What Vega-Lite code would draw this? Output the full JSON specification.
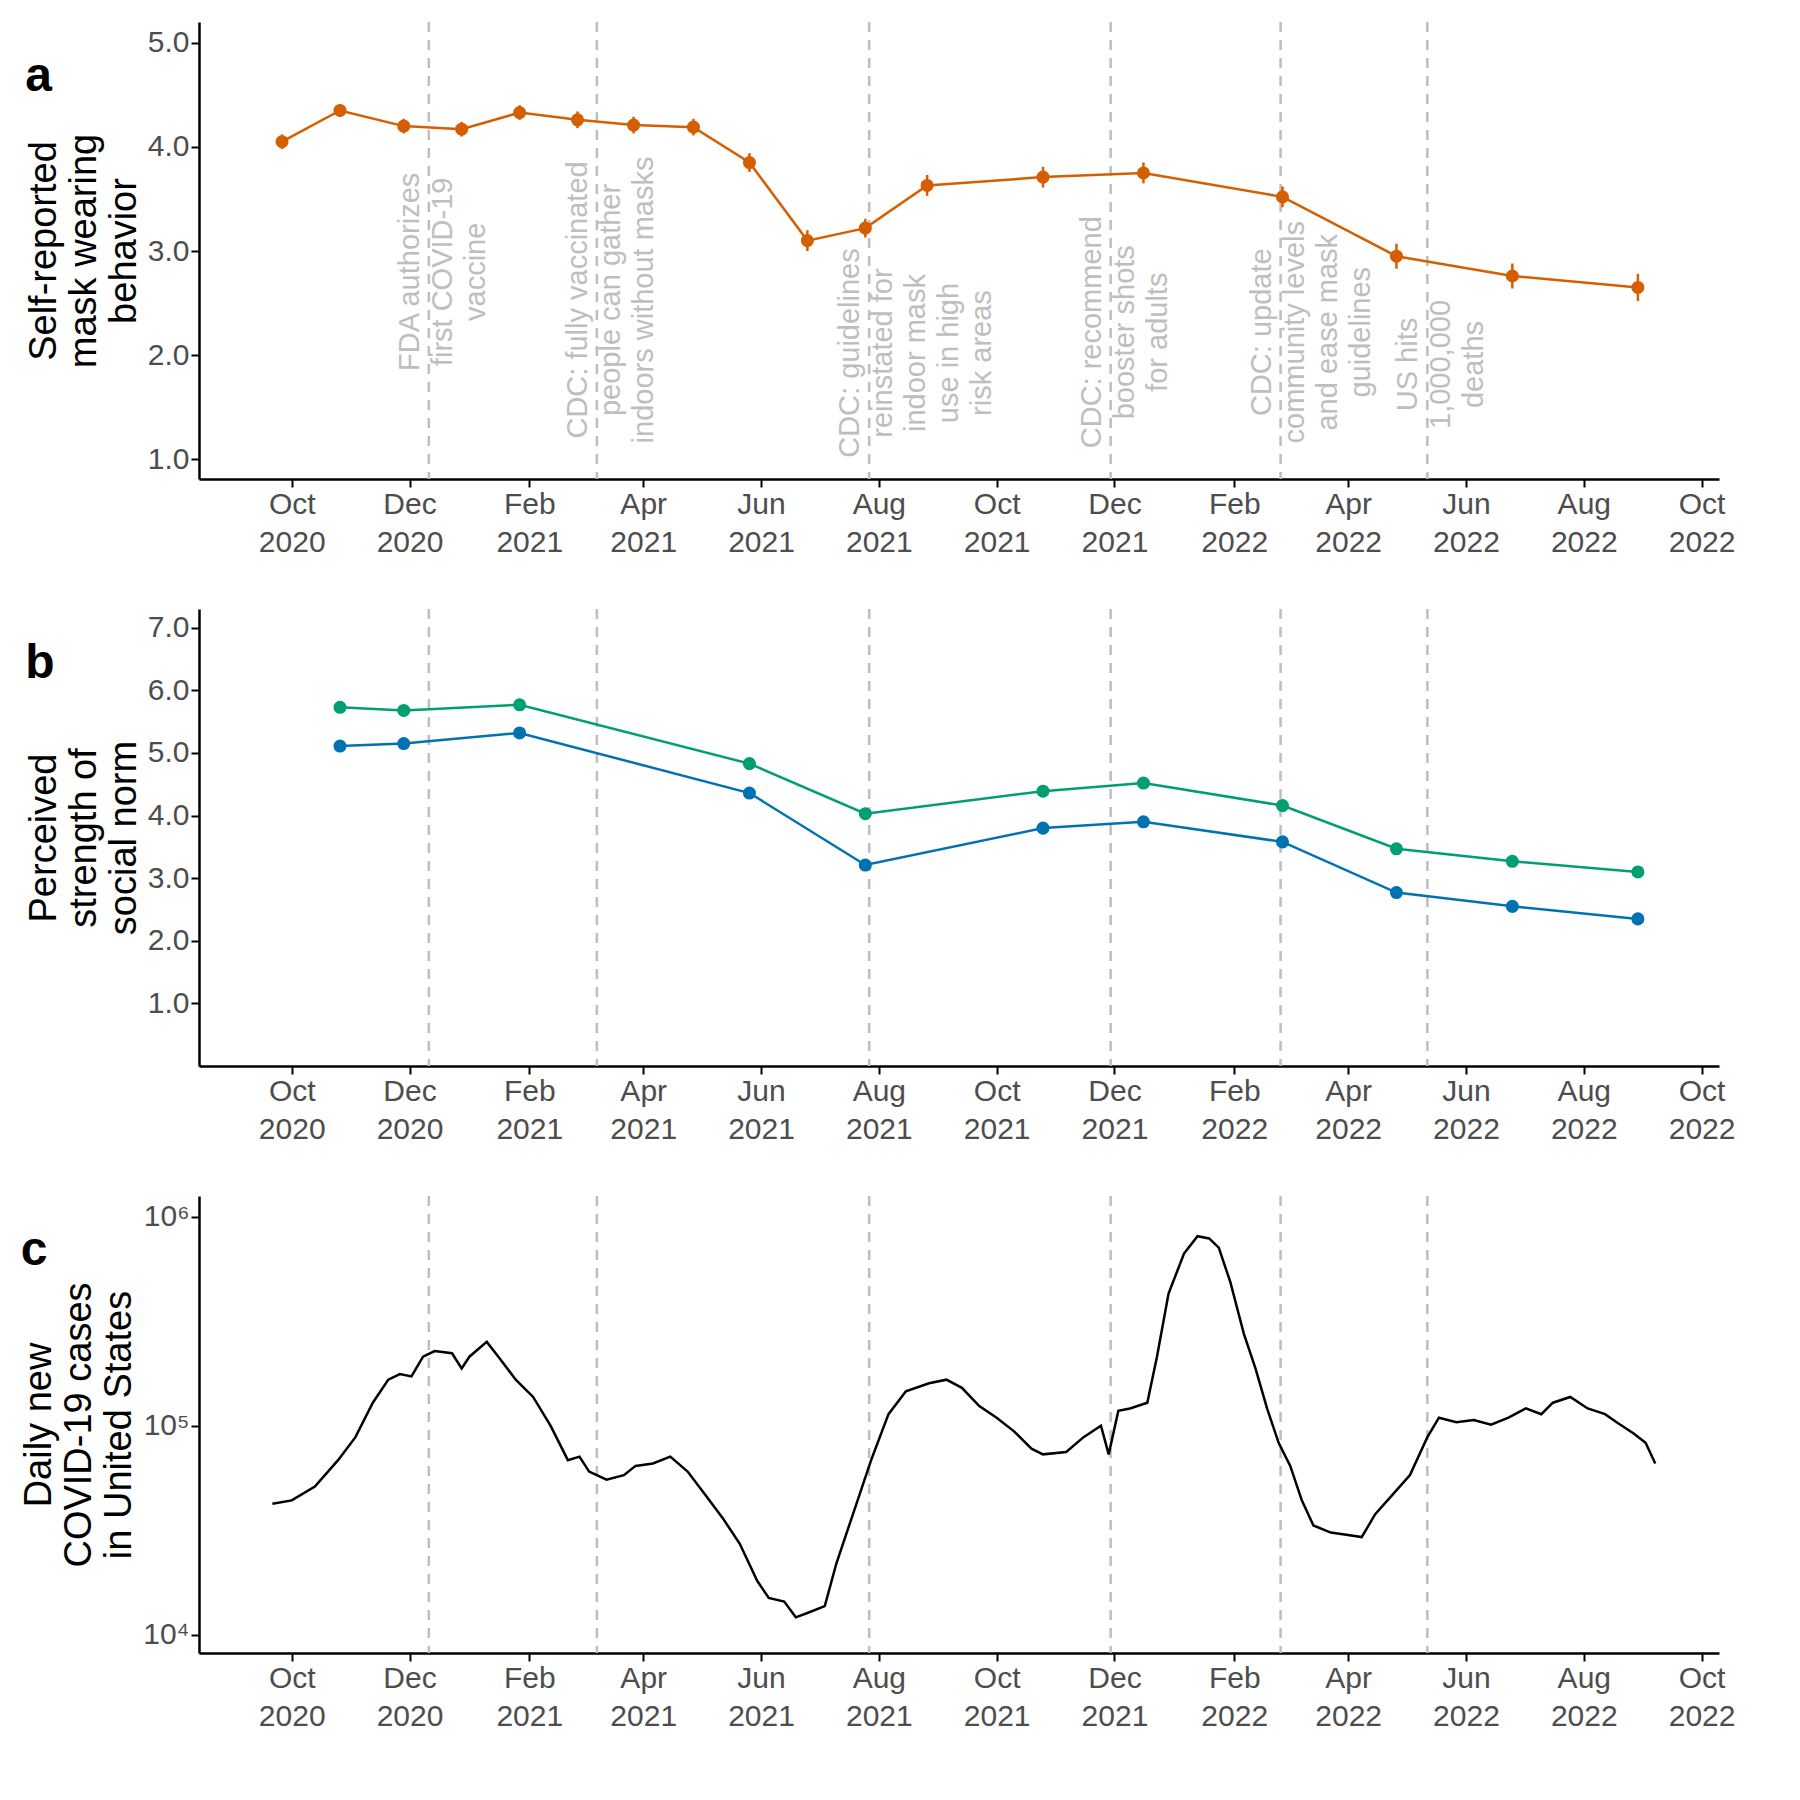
{
  "$schema": "https://vega.github.io/schema/vega-lite/v6.json",
  "padding": {"left": 20, "top": 20, "right": 25, "bottom": 10},
  "background": "white",
  "config": {
    "font": "Liberation Sans",
    "view": {"stroke": null},
    "axis": {"grid": false, "domainColor": "black", "domainWidth": 2.5, "tickColor": "black", "tickWidth": 2, "tickSize": 8, "labelFontSize": 30, "labelColor": "#4D4D4D", "titleFontSize": 38, "titleFontWeight": "normal", "titleColor": "black"},
    "title": {"fontSize": 48, "fontWeight": "bold", "anchor": "start", "frame": "bounds", "offset": -40, "dx": 0, "dy": 40}
  },
  "datasets": {
    "events": [
      {"date": "2020-12-11", "label": "FDA authorizes|first COVID-19|vaccine", "ya": 2.8},
      {"date": "2021-03-08", "label": "CDC: fully vaccinated|people can gather|indoors without masks", "ya": 2.53},
      {"date": "2021-07-27", "label": "CDC: guidelines|reinstated for|indoor mask|use in high|risk areas", "ya": 2.02},
      {"date": "2021-11-29", "label": "CDC: recommend|booster shots|for adults", "ya": 2.22},
      {"date": "2022-02-25", "label": "CDC: update|community levels|and ease mask|guidelines", "ya": 2.22},
      {"date": "2022-05-12", "label": "US hits|1,000,000|deaths", "ya": 1.91}
    ],
    "mask": [
      {"date": "2020-09-26", "value": 4.05, "lo": 3.98, "hi": 4.12},
      {"date": "2020-10-26", "value": 4.35, "lo": 4.29, "hi": 4.41},
      {"date": "2020-11-28", "value": 4.2, "lo": 4.13, "hi": 4.27},
      {"date": "2020-12-28", "value": 4.17, "lo": 4.1, "hi": 4.24},
      {"date": "2021-01-27", "value": 4.33, "lo": 4.26, "hi": 4.4},
      {"date": "2021-02-26", "value": 4.26, "lo": 4.18, "hi": 4.34},
      {"date": "2021-03-27", "value": 4.21, "lo": 4.13, "hi": 4.29},
      {"date": "2021-04-27", "value": 4.19, "lo": 4.11, "hi": 4.27},
      {"date": "2021-05-26", "value": 3.85, "lo": 3.76, "hi": 3.94},
      {"date": "2021-06-25", "value": 3.1, "lo": 3.0, "hi": 3.2},
      {"date": "2021-07-25", "value": 3.22, "lo": 3.13, "hi": 3.31},
      {"date": "2021-08-26", "value": 3.63, "lo": 3.53, "hi": 3.73},
      {"date": "2021-10-25", "value": 3.71, "lo": 3.61, "hi": 3.81},
      {"date": "2021-12-16", "value": 3.75, "lo": 3.65, "hi": 3.85},
      {"date": "2022-02-26", "value": 3.52, "lo": 3.42, "hi": 3.62},
      {"date": "2022-04-26", "value": 2.95, "lo": 2.83, "hi": 3.07},
      {"date": "2022-06-25", "value": 2.76, "lo": 2.64, "hi": 2.88},
      {"date": "2022-08-29", "value": 2.65, "lo": 2.52, "hi": 2.78}
    ],
    "norm": [
      {"date": "2020-10-26", "norm": "Injunctive", "value": 5.73, "lo": 5.68, "hi": 5.78},
      {"date": "2020-11-28", "norm": "Injunctive", "value": 5.68, "lo": 5.63, "hi": 5.73},
      {"date": "2021-01-27", "norm": "Injunctive", "value": 5.77, "lo": 5.72, "hi": 5.82},
      {"date": "2021-05-26", "norm": "Injunctive", "value": 4.83, "lo": 4.75, "hi": 4.91},
      {"date": "2021-07-25", "norm": "Injunctive", "value": 4.03, "lo": 3.97, "hi": 4.09},
      {"date": "2021-10-25", "norm": "Injunctive", "value": 4.39, "lo": 4.32, "hi": 4.46},
      {"date": "2021-12-16", "norm": "Injunctive", "value": 4.52, "lo": 4.43, "hi": 4.61},
      {"date": "2022-02-26", "norm": "Injunctive", "value": 4.16, "lo": 4.08, "hi": 4.24},
      {"date": "2022-04-26", "norm": "Injunctive", "value": 3.47, "lo": 3.39, "hi": 3.55},
      {"date": "2022-06-25", "norm": "Injunctive", "value": 3.27, "lo": 3.21, "hi": 3.33},
      {"date": "2022-08-29", "norm": "Injunctive", "value": 3.1, "lo": 3.04, "hi": 3.16},
      {"date": "2020-10-26", "norm": "Descriptive", "value": 5.11, "lo": 5.06, "hi": 5.16},
      {"date": "2020-11-28", "norm": "Descriptive", "value": 5.15, "lo": 5.1, "hi": 5.2},
      {"date": "2021-01-27", "norm": "Descriptive", "value": 5.32, "lo": 5.27, "hi": 5.37},
      {"date": "2021-05-26", "norm": "Descriptive", "value": 4.36, "lo": 4.29, "hi": 4.43},
      {"date": "2021-07-25", "norm": "Descriptive", "value": 3.21, "lo": 3.15, "hi": 3.27},
      {"date": "2021-10-25", "norm": "Descriptive", "value": 3.8, "lo": 3.73, "hi": 3.87},
      {"date": "2021-12-16", "norm": "Descriptive", "value": 3.9, "lo": 3.82, "hi": 3.98},
      {"date": "2022-02-26", "norm": "Descriptive", "value": 3.58, "lo": 3.5, "hi": 3.66},
      {"date": "2022-04-26", "norm": "Descriptive", "value": 2.77, "lo": 2.71, "hi": 2.83},
      {"date": "2022-06-25", "norm": "Descriptive", "value": 2.55, "lo": 2.5, "hi": 2.6},
      {"date": "2022-08-29", "norm": "Descriptive", "value": 2.35, "lo": 2.3, "hi": 2.4}
    ],
    "cases": [
      {"date": "2020-09-21", "cases": 42300}, {"date": "2020-10-01", "cases": 43900},
      {"date": "2020-10-13", "cases": 51100}, {"date": "2020-10-25", "cases": 68400},
      {"date": "2020-11-03", "cases": 88100}, {"date": "2020-11-12", "cases": 128800},
      {"date": "2020-11-20", "cases": 166000}, {"date": "2020-11-26", "cases": 176600},
      {"date": "2020-12-02", "cases": 172000}, {"date": "2020-12-08", "cases": 213800},
      {"date": "2020-12-14", "cases": 227600}, {"date": "2020-12-23", "cases": 222000},
      {"date": "2020-12-28", "cases": 188000}, {"date": "2021-01-01", "cases": 213800},
      {"date": "2021-01-10", "cases": 251800}, {"date": "2021-01-16", "cases": 213800},
      {"date": "2021-01-25", "cases": 166000}, {"date": "2021-02-03", "cases": 137200},
      {"date": "2021-02-12", "cases": 100000}, {"date": "2021-02-21", "cases": 68400},
      {"date": "2021-02-27", "cases": 71100}, {"date": "2021-03-04", "cases": 60300},
      {"date": "2021-03-13", "cases": 55200}, {"date": "2021-03-22", "cases": 58000},
      {"date": "2021-03-28", "cases": 64200}, {"date": "2021-04-06", "cases": 65900},
      {"date": "2021-04-15", "cases": 71100}, {"date": "2021-04-24", "cases": 60300},
      {"date": "2021-05-03", "cases": 46800}, {"date": "2021-05-12", "cases": 36300},
      {"date": "2021-05-21", "cases": 27200}, {"date": "2021-05-30", "cases": 18100},
      {"date": "2021-06-05", "cases": 15000}, {"date": "2021-06-13", "cases": 14400},
      {"date": "2021-06-19", "cases": 12100}, {"date": "2021-06-25", "cases": 12700},
      {"date": "2021-07-04", "cases": 13700}, {"date": "2021-07-10", "cases": 21900},
      {"date": "2021-07-19", "cases": 38700}, {"date": "2021-07-28", "cases": 68400},
      {"date": "2021-08-06", "cases": 113500}, {"date": "2021-08-15", "cases": 146200},
      {"date": "2021-08-27", "cases": 159600}, {"date": "2021-09-05", "cases": 166000},
      {"date": "2021-09-13", "cases": 151800}, {"date": "2021-09-22", "cases": 124000},
      {"date": "2021-10-01", "cases": 109200}, {"date": "2021-10-10", "cases": 93900},
      {"date": "2021-10-19", "cases": 77600}, {"date": "2021-10-25", "cases": 72900},
      {"date": "2021-11-06", "cases": 74800}, {"date": "2021-11-15", "cases": 88100},
      {"date": "2021-11-24", "cases": 100000}, {"date": "2021-11-28", "cases": 72900},
      {"date": "2021-12-03", "cases": 117900}, {"date": "2021-12-09", "cases": 120900},
      {"date": "2021-12-18", "cases": 128800}, {"date": "2021-12-23", "cases": 213800},
      {"date": "2021-12-29", "cases": 428500}, {"date": "2022-01-06", "cases": 666000},
      {"date": "2022-01-13", "cases": 807000}, {"date": "2022-01-19", "cases": 787000},
      {"date": "2022-01-24", "cases": 711000}, {"date": "2022-01-30", "cases": 486000},
      {"date": "2022-02-06", "cases": 275000}, {"date": "2022-02-12", "cases": 188000},
      {"date": "2022-02-18", "cases": 120900}, {"date": "2022-02-24", "cases": 82800},
      {"date": "2022-03-02", "cases": 64200}, {"date": "2022-03-08", "cases": 43900},
      {"date": "2022-03-14", "cases": 33300}, {"date": "2022-03-23", "cases": 30800},
      {"date": "2022-03-31", "cases": 30100}, {"date": "2022-04-08", "cases": 29300},
      {"date": "2022-04-15", "cases": 37700}, {"date": "2022-04-24", "cases": 46800},
      {"date": "2022-05-03", "cases": 58000}, {"date": "2022-05-12", "cases": 88100},
      {"date": "2022-05-18", "cases": 109200}, {"date": "2022-05-27", "cases": 103800},
      {"date": "2022-06-05", "cases": 106500}, {"date": "2022-06-14", "cases": 101100},
      {"date": "2022-06-23", "cases": 109200}, {"date": "2022-07-02", "cases": 120900},
      {"date": "2022-07-10", "cases": 113500}, {"date": "2022-07-16", "cases": 128800},
      {"date": "2022-07-25", "cases": 137200}, {"date": "2022-08-03", "cases": 120900},
      {"date": "2022-08-12", "cases": 113500}, {"date": "2022-08-18", "cases": 103800},
      {"date": "2022-08-27", "cases": 91500}, {"date": "2022-09-02", "cases": 82800},
      {"date": "2022-09-07", "cases": 65900}
    ]
  },
  "spacing": 50,
  "vconcat": [
    {
      "title": "a",
      "width": 1520,
      "height": 457,
      "encoding": {
        "x": {"field": "date", "type": "temporal", "title": null,
          "scale": {"domain": [{"year": 2020, "month": 8, "date": 14}, {"year": 2022, "month": 10, "date": 10}]},
          "axis": {"values": [{"year": 2020, "month": 10, "date": 1}, {"year": 2020, "month": 12, "date": 1}, {"year": 2021, "month": 2, "date": 1}, {"year": 2021, "month": 4, "date": 1}, {"year": 2021, "month": 6, "date": 1}, {"year": 2021, "month": 8, "date": 1}, {"year": 2021, "month": 10, "date": 1}, {"year": 2021, "month": 12, "date": 1}, {"year": 2022, "month": 2, "date": 1}, {"year": 2022, "month": 4, "date": 1}, {"year": 2022, "month": 6, "date": 1}, {"year": 2022, "month": 8, "date": 1}, {"year": 2022, "month": 10, "date": 1}],
            "labelExpr": "[timeFormat(datum.value, '%b'), timeFormat(datum.value, '%Y')]", "labelLineHeight": 38}}
      },
      "layer": [
        {"data": {"name": "events"}, "mark": {"type": "rule", "strokeDash": [10, 8], "strokeWidth": 2.5, "color": "#BEBEBE"}, "encoding": {}},
        {"data": {"name": "events"}, "mark": {"type": "text", "angle": 270, "align": "center", "baseline": "bottom", "lineBreak": "|", "fontSize": 29, "color": "#BEBEBE", "lineHeight": 33, "dy": -4},
          "encoding": {"text": {"field": "label"}, "y": {"field": "ya", "type": "quantitative", "scale": {"domain": [0.81, 5.2]}}}},
        {"data": {"name": "mask"}, "mark": {"type": "rule", "color": "#D55E00", "strokeWidth": 2.5},
          "encoding": {"y": {"field": "lo", "type": "quantitative"}, "y2": {"field": "hi"}}},
        {"data": {"name": "mask"}, "mark": {"type": "line", "color": "#D55E00", "strokeWidth": 2.5, "point": {"filled": true, "size": 170, "color": "#D55E00"}},
          "encoding": {"y": {"field": "value", "type": "quantitative", "scale": {"domain": [0.81, 5.2], "nice": false}, "axis": {"values": [1, 2, 3, 4, 5]}, "title": ["Self-reported", "mask wearing", "behavior"]}}}
      ]
    },
    {
      "title": "b",
      "width": 1520,
      "height": 457,
      "encoding": {
        "x": {"field": "date", "type": "temporal", "title": null,
          "scale": {"domain": [{"year": 2020, "month": 8, "date": 14}, {"year": 2022, "month": 10, "date": 10}]},
          "axis": {"values": [{"year": 2020, "month": 10, "date": 1}, {"year": 2020, "month": 12, "date": 1}, {"year": 2021, "month": 2, "date": 1}, {"year": 2021, "month": 4, "date": 1}, {"year": 2021, "month": 6, "date": 1}, {"year": 2021, "month": 8, "date": 1}, {"year": 2021, "month": 10, "date": 1}, {"year": 2021, "month": 12, "date": 1}, {"year": 2022, "month": 2, "date": 1}, {"year": 2022, "month": 4, "date": 1}, {"year": 2022, "month": 6, "date": 1}, {"year": 2022, "month": 8, "date": 1}, {"year": 2022, "month": 10, "date": 1}],
            "labelExpr": "[timeFormat(datum.value, '%b'), timeFormat(datum.value, '%Y')]", "labelLineHeight": 38}}
      },
      "layer": [
        {"data": {"name": "events"}, "mark": {"type": "rule", "strokeDash": [10, 8], "strokeWidth": 2.5, "color": "#BEBEBE"}, "encoding": {}},
        {"data": {"name": "norm"}, "mark": {"type": "rule", "strokeWidth": 2.5},
          "encoding": {"y": {"field": "lo", "type": "quantitative"}, "y2": {"field": "hi"},
            "color": {"field": "norm", "type": "nominal", "scale": {"domain": ["Injunctive", "Descriptive"], "range": ["#009E73", "#0072B2"]}, "legend": null}}},
        {"data": {"name": "norm"}, "mark": {"type": "line", "strokeWidth": 2.5, "point": {"filled": true, "size": 170}},
          "encoding": {"y": {"field": "value", "type": "quantitative", "scale": {"domain": [0.74, 7.3], "nice": false}, "axis": {"values": [1, 2, 3, 4, 5, 6, 7]}, "title": ["Perceived", "strength of", "social norm"]},
            "color": {"field": "norm", "type": "nominal", "scale": {"domain": ["Injunctive", "Descriptive"], "range": ["#009E73", "#0072B2"]},
              "legend": {"orient": "none", "legendX": 111, "legendY": 220, "title": null, "strokeColor": "black", "padding": 12, "labelFontSize": 33, "labelColor": "black", "symbolType": "circle", "symbolSize": 500, "rowPadding": 24, "labelLimit": 400, "labelOffset": 22,
                "labelExpr": "datum.label == 'Injunctive' ? ['Injunctive mask', 'wearing norm'] : ['Descriptive mask', 'wearing norm']"}}}}
      ]
    },
    {
      "title": "c",
      "width": 1520,
      "height": 457,
      "encoding": {
        "x": {"field": "date", "type": "temporal", "title": null,
          "scale": {"domain": [{"year": 2020, "month": 8, "date": 14}, {"year": 2022, "month": 10, "date": 10}]},
          "axis": {"values": [{"year": 2020, "month": 10, "date": 1}, {"year": 2020, "month": 12, "date": 1}, {"year": 2021, "month": 2, "date": 1}, {"year": 2021, "month": 4, "date": 1}, {"year": 2021, "month": 6, "date": 1}, {"year": 2021, "month": 8, "date": 1}, {"year": 2021, "month": 10, "date": 1}, {"year": 2021, "month": 12, "date": 1}, {"year": 2022, "month": 2, "date": 1}, {"year": 2022, "month": 4, "date": 1}, {"year": 2022, "month": 6, "date": 1}, {"year": 2022, "month": 8, "date": 1}, {"year": 2022, "month": 10, "date": 1}],
            "labelExpr": "[timeFormat(datum.value, '%b'), timeFormat(datum.value, '%Y')]", "labelLineHeight": 38}}
      },
      "layer": [
        {"data": {"name": "events"}, "mark": {"type": "rule", "strokeDash": [10, 8], "strokeWidth": 2.5, "color": "#BEBEBE"}, "encoding": {}},
        {"data": {"name": "cases"}, "mark": {"type": "line", "color": "black", "strokeWidth": 2.5},
          "encoding": {"y": {"field": "cases", "type": "quantitative", "scale": {"type": "log", "domain": [8170, 1256000], "nice": false}, "axis": {"values": [10000, 100000, 1000000], "labelExpr": "datum.value >= 999999 ? '10⁶' : datum.value >= 99999 ? '10⁵' : '10⁴'"}, "title": ["Daily new", "COVID-19 cases", "in United States"]}}}
      ]
    }
  ]
}
